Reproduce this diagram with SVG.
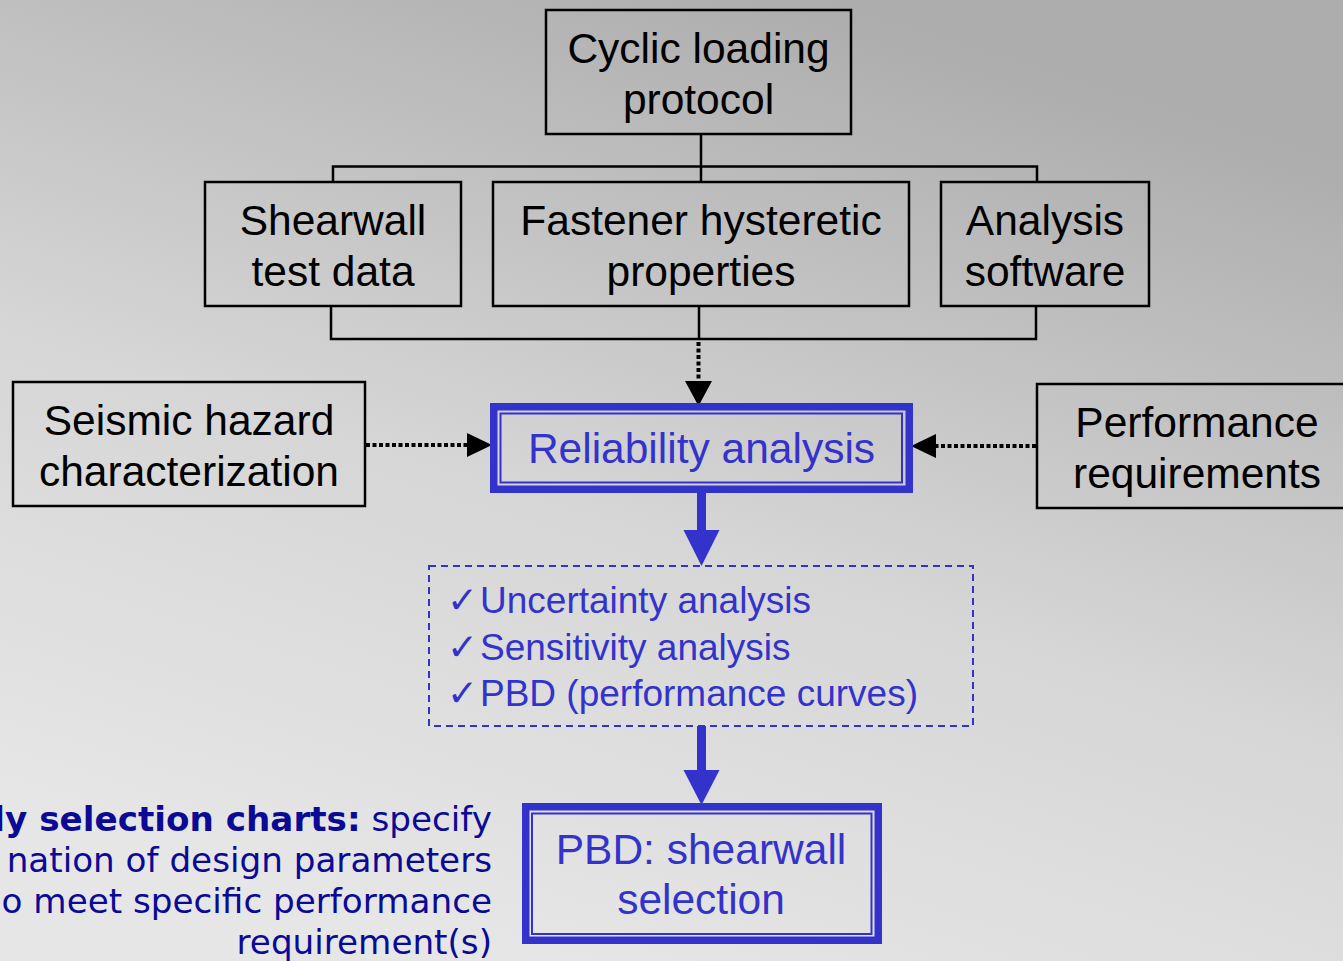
<svg xmlns="http://www.w3.org/2000/svg" width="1343" height="961" viewBox="0 0 1343 961">
  <defs>
    <linearGradient id="bg" gradientUnits="userSpaceOnUse" x1="820" y1="0" x2="520" y2="961">
      <stop offset="0" stop-color="#adadad"/>
      <stop offset="0.55" stop-color="#d6d6d6"/>
      <stop offset="1" stop-color="#e6e6e6"/>
    </linearGradient>
    <style>
      .box { fill: none; stroke: #000; stroke-width: 2.5; }
      .lbl { font-family: "Liberation Sans", Arial, sans-serif; font-size: 42.5px; fill: #000; text-anchor: middle; }
      .blbl { font-family: "Liberation Sans", Arial, sans-serif; font-size: 42.5px; fill: #3333cc; text-anchor: middle; }
      .outer { fill: none; stroke: #3333cc; stroke-width: 7.5; }
      .inner { fill: none; stroke: #3333cc; stroke-width: 2; }
      .dashbox { fill: none; stroke: #3333cc; stroke-width: 2; stroke-dasharray: 7 5; }
      .item { font-family: "Liberation Sans", "DejaVu Sans", Arial, sans-serif; font-size: 37px; fill: #3333cc; }
      .tick { font-family: "DejaVu Sans", sans-serif; font-size: 37px; fill: #3333cc; }
      .note { font-family: "DejaVu Sans", Verdana, sans-serif; font-size: 34.2px; fill: #0a0a96; text-anchor: end; }
      .wire { fill: none; stroke: #000; stroke-width: 2.5; }
      .dot { fill: none; stroke: #000; stroke-width: 4; stroke-dasharray: 4 2.5; }
      .head { fill: #000; }
      .bhead { fill: #3333cc; }
    </style>
  </defs>

  <rect width="1343" height="961" fill="url(#bg)"/>

  <!-- connectors -->
  <g id="connectors">
    <!-- fan-out from the loading protocol -->
    <polyline class="wire" points="701,134 701,182"/>
    <polyline class="wire" points="333,182 333,166.5 1037,166.5 1037,182"/>
    <!-- collector under the three inputs -->
    <polyline class="wire" points="331,306 331,339 1036,339 1036,306"/>
    <line class="wire" x1="699" y1="306" x2="699" y2="339"/>
    <!-- dotted arrows into reliability analysis -->
    <line class="dot" x1="698.5" y1="342" x2="698.5" y2="382"/>
    <polygon class="head" points="685,381 712,381 698.5,406"/>
    <line class="dot" x1="366" y1="445" x2="468" y2="445"/>
    <polygon class="head" points="467,433 467,457 492,445"/>
    <line class="dot" x1="1036" y1="446" x2="935" y2="446"/>
    <polygon class="head" points="936,434 936,458 911,446"/>
    <!-- blue flow arrows -->
    <rect x="697" y="493" width="9" height="39" fill="#3333cc"/>
    <polygon class="bhead" points="683.5,530 719.5,530 701.5,566"/>
    <rect x="697" y="726" width="9" height="46" fill="#3333cc"/>
    <polygon class="bhead" points="683.5,770 719.5,770 701.5,805"/>
  </g>

  <g id="cyclic">
    <rect class="box" x="546" y="10" width="305" height="124"/>
    <text class="lbl" x="698.5" y="63">Cyclic loading</text>
    <text class="lbl" x="698.5" y="114">protocol</text>
  </g>

  <g id="shearwall">
    <rect class="box" x="205" y="182" width="256" height="124"/>
    <text class="lbl" x="333" y="235">Shearwall</text>
    <text class="lbl" x="333" y="286">test data</text>
  </g>

  <g id="fastener">
    <rect class="box" x="493" y="182" width="416" height="124"/>
    <text class="lbl" x="701" y="235">Fastener hysteretic</text>
    <text class="lbl" x="701" y="286">properties</text>
  </g>

  <g id="software">
    <rect class="box" x="941" y="182" width="208" height="124"/>
    <text class="lbl" x="1045" y="235">Analysis</text>
    <text class="lbl" x="1045" y="286">software</text>
  </g>

  <g id="seismic">
    <rect class="box" x="13" y="382" width="352" height="124"/>
    <text class="lbl" x="189" y="435">Seismic hazard</text>
    <text class="lbl" x="189" y="486">characterization</text>
  </g>

  <g id="performance">
    <rect class="box" x="1037" y="384" width="320" height="124"/>
    <text class="lbl" x="1197" y="437">Performance</text>
    <text class="lbl" x="1197" y="488">requirements</text>
  </g>

  <g id="reliability">
    <rect class="outer" x="493.75" y="406.75" width="415.5" height="82.5"/>
    <rect class="inner" x="500.5" y="413.5" width="401.5" height="69"/>
    <text class="blbl" x="701.5" y="463">Reliability analysis</text>
  </g>

  <g id="outcomes">
    <rect class="dashbox" x="429" y="566" width="544" height="160"/>
    <text class="item" y="613"><tspan class="tick" x="447">✓</tspan><tspan x="480">Uncertainty analysis</tspan></text>
    <text class="item" y="660"><tspan class="tick" x="447">✓</tspan><tspan x="480">Sensitivity analysis</tspan></text>
    <text class="item" y="706"><tspan class="tick" x="447">✓</tspan><tspan x="480">PBD (performance curves)</tspan></text>
  </g>

  <g id="selection">
    <rect class="outer" x="525.75" y="806.75" width="352.5" height="133.5"/>
    <rect class="inner" x="532" y="813.5" width="339.5" height="120.5"/>
    <text class="blbl" x="701" y="864">PBD: shearwall</text>
    <text class="blbl" x="701" y="914">selection</text>
  </g>

  <g id="note">
    <text class="note" x="492" y="831"><tspan font-weight="bold">ly selection charts:</tspan> specify</text>
    <text class="note" x="492" y="872">nation of design parameters</text>
    <text class="note" x="492" y="913">o meet specific performance</text>
    <text class="note" x="492" y="954">requirement(s)</text>
  </g>
</svg>
